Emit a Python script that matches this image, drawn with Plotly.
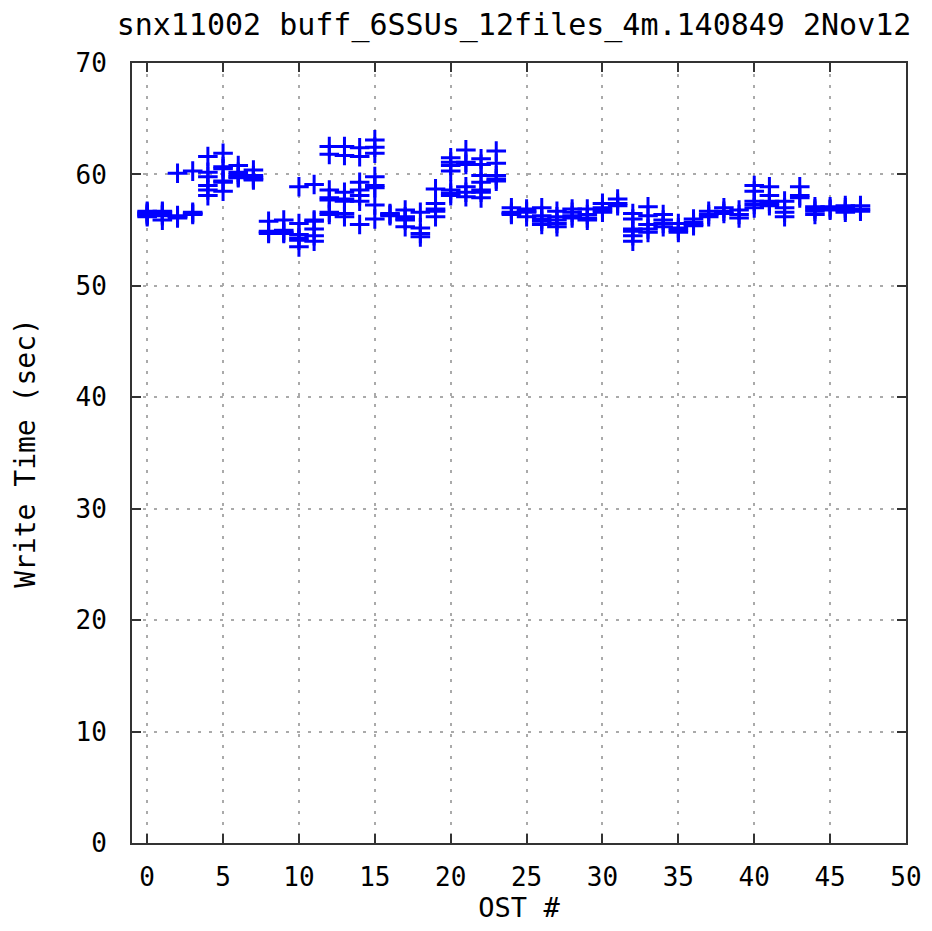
import plotly.graph_objects as go

# Write time (sec) of each file, grouped by OST index 0..47
times_by_ost = [
    [56.7, 56.6, 56.5, 56.4, 56.3, 56.2],
    [56.7, 56.6, 56.4, 56.3, 55.9],
    [60.1, 56.3, 56.2, 56.1],
    [60.3, 56.6, 56.5, 56.4],
    [61.6, 60.2, 59.8, 59.0, 58.6, 58.1],
    [61.9, 60.7, 60.5, 59.4, 59.3, 58.5],
    [60.8, 60.2, 60.0, 59.8, 59.7],
    [60.4, 59.9, 59.7, 59.6, 59.5],
    [55.8, 54.9, 54.8, 54.7],
    [55.9, 55.0, 54.8, 54.7],
    [58.9, 55.6, 54.6, 54.3, 54.1, 53.5],
    [59.1, 55.9, 55.8, 55.1, 54.5, 54.0],
    [62.5, 61.8, 58.6, 57.9, 57.7, 56.6, 56.4],
    [62.5, 61.7, 58.4, 57.8, 57.6, 56.5, 56.2],
    [62.4, 61.6, 59.3, 58.6, 58.1, 57.6, 55.5],
    [63.1, 62.45, 61.9, 59.8, 59.0, 58.8, 57.25, 56.0],
    [56.5, 56.4, 56.3],
    [56.8, 56.2, 56.0, 55.9, 55.3],
    [56.6, 55.2, 54.7, 54.4],
    [58.7, 57.4, 56.9, 56.7, 56.2],
    [61.5, 61.1, 60.8, 60.3, 58.6, 58.3, 58.1],
    [62.2, 61.1, 60.9, 58.9, 58.4, 58.0],
    [61.4, 60.9, 59.9, 59.3, 58.6, 58.4, 57.9],
    [62.1, 61.0, 59.9, 59.6, 59.4],
    [57.0, 56.6, 56.5, 56.4],
    [56.9, 56.7, 56.6, 56.2],
    [57.0, 56.3, 56.0, 55.8, 55.5],
    [56.7, 56.2, 55.9, 55.6, 55.3],
    [56.9, 56.6, 56.3, 56.1],
    [56.9, 56.4, 56.1, 55.9],
    [57.4, 57.0, 56.8, 56.6],
    [57.8, 57.4, 57.2],
    [56.5, 56.0, 55.1, 54.9, 54.5, 54.0],
    [57.1, 56.3, 55.5, 55.1, 54.8],
    [56.4, 55.9, 55.6, 55.3],
    [55.6, 55.2, 55.0, 54.8],
    [56.0, 55.7, 55.5, 55.4],
    [56.7, 56.4, 56.2],
    [57.0, 56.7, 56.5],
    [56.8, 56.4, 56.1],
    [59.0, 58.5, 57.6, 57.3, 57.0],
    [58.9, 58.1, 57.6, 57.4, 57.2],
    [57.6, 57.0, 56.6, 56.2],
    [58.9, 58.1, 57.9],
    [57.1, 56.9, 56.7, 56.4],
    [57.1, 56.9, 56.8],
    [57.2, 57.0, 56.8, 56.6],
    [57.2, 56.9, 56.7],
]

x_ticks = [0, 5, 10, 15, 20, 25, 30, 35, 40, 45, 50]
y_ticks = [0, 10, 20, 30, 40, 50, 60, 70]

ost = []
write_time = []
for i, times in enumerate(times_by_ost):
    for t in times:
        ost.append(i)
        write_time.append(t)

font = "DejaVu Sans Mono"

fig = go.Figure()
fig.add_trace(go.Scatter(
    x=ost,
    y=write_time,
    mode='markers',
    marker=dict(symbol='cross-thin', size=14, color='#0000ff',
                line=dict(width=3, color='#0000ff')),
    showlegend=False,
))

axis_common = dict(
    showline=True, linecolor='#333333', linewidth=2, mirror='ticks',
    ticks='inside', ticklen=9, tickwidth=2, tickcolor='#333333',
    showgrid=True, gridcolor='#aaaaaa', gridwidth=2, griddash='3px,8px',
    zeroline=False, automargin=False,
    tickfont=dict(family=font, size=26, color='black'),
)

fig.update_xaxes(
    range=[-1, 50], tickvals=x_ticks, ticklabelstandoff=10,
    title=dict(text='OST #', font=dict(family=font, size=27, color='black'), standoff=26),
    **axis_common,
)
fig.update_yaxes(
    range=[0, 70], tickvals=y_ticks, ticklabelstandoff=18,
    title=dict(text='Write Time (sec)', font=dict(family=font, size=28, color='black'), standoff=32),
    **axis_common,
)

# page body adds an 8px margin, so the figure is a bit smaller than the window
fig.update_layout(
    width=916, height=915,
    margin=dict(l=124, r=18, t=55, b=80),
    plot_bgcolor='white', paper_bgcolor='white',
    title=dict(text='snx11002 buff_6SSUs_12files_4m.140849 2Nov12',
               font=dict(family=font, size=30, color='black'),
               x=0.5524, xanchor='center', y=0.993, yanchor='top',
               pad=dict(t=0, b=0)),
)

fig.write_html("out.html")
